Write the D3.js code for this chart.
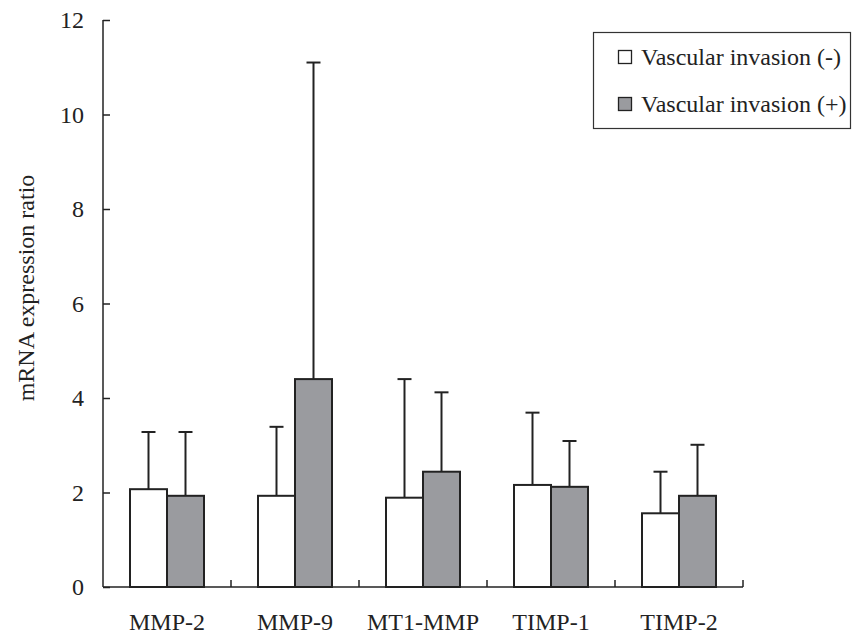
<!DOCTYPE html>
<html><head><meta charset="utf-8">
<script src="https://cdn.jsdelivr.net/npm/d3@7"></script>
<style>body{margin:0;background:#fff}svg{display:block}</style>
</head><body><svg id="c" width="864" height="635"></svg>
<script>
const categories = ["MMP-2","MMP-9","MT1-MMP","TIMP-1","TIMP-2"];
const seriesNames = ["Vascular invasion (-)","Vascular invasion (+)"];
const negMean = [2.07,1.93,1.89,2.16,1.56];
const negErr  = [1.21,1.46,2.51,1.53,0.88];
const posMean = [1.93,4.40,2.44,2.12,1.93];
const posErr  = [1.35,6.70,1.68,0.97,1.08];
const yTicks = [0,2,4,6,8,10,12];
const colors = ["#ffffff","#9a9b9f"];
const FONT = "'Liberation Serif', 'Times New Roman', 'DejaVu Serif', serif";

const svg = d3.select("#c").attr("font-family",FONT);
const x0 = 103, x1 = 743, yb = 587, yt = 20;
const x = d3.scaleBand().domain(categories).range([x0,x1]).paddingInner(0).paddingOuter(0);
const xs = d3.scaleBand().domain([0,1]).range([0,74]);
const y = d3.scaleLinear().domain([0,12]).range([yb,yt]);

// y axis
const ya = svg.append("g").attr("transform",`translate(${x0},0)`)
  .call(d3.axisLeft(y).tickValues(yTicks).tickSize(-7).tickPadding(19).tickFormat(d3.format("d")));
ya.attr("font-family",FONT);
ya.select(".domain").remove();
ya.append("line").attr("x1",0).attr("x2",0).attr("y1",yt).attr("y2",yb).attr("stroke","#222").attr("stroke-width",1.5);
ya.selectAll(".tick line").attr("stroke","#222").attr("stroke-width",1.5);
ya.selectAll(".tick text").attr("font-size",24).attr("font-family",FONT).attr("fill","#222");

// x axis
const xa = svg.append("g").attr("transform",`translate(0,${yb})`);
xa.append("line").attr("x1",x0).attr("x2",x1).attr("stroke","#222").attr("stroke-width",1.5);
const bounds = categories.map(c=>x(c)+x.bandwidth());
xa.selectAll("line.t").data(bounds).enter().append("line").attr("class","t")
  .attr("x1",d=>d).attr("x2",d=>d).attr("y1",0).attr("y2",-7).attr("stroke","#222").attr("stroke-width",1.5);
xa.selectAll("text.c").data(categories).enter().append("text").attr("class","c")
  .attr("x",d=>x(d)+x.bandwidth()/2).attr("y",43).attr("text-anchor","middle")
  .attr("font-size",24).attr("font-family",FONT).attr("fill","#222").text(d=>d);

// bars
const data = [];
categories.forEach((c,i)=>{
  data.push({c,s:0,m:negMean[i],e:negErr[i]});
  data.push({c,s:1,m:posMean[i],e:posErr[i]});
});
const off = (x.bandwidth()-74)/2;
const g = svg.append("g");
g.selectAll("line.err").data(data).enter().append("line")
  .attr("x1",d=>x(d.c)+off+xs(d.s)+xs.bandwidth()/2).attr("x2",d=>x(d.c)+off+xs(d.s)+xs.bandwidth()/2)
  .attr("y1",d=>y(d.m)).attr("y2",d=>y(d.m+d.e)).attr("stroke","#222").attr("stroke-width",2);
g.selectAll("line.cap").data(data).enter().append("line")
  .attr("x1",d=>x(d.c)+off+xs(d.s)+xs.bandwidth()/2-7).attr("x2",d=>x(d.c)+off+xs(d.s)+xs.bandwidth()/2+7)
  .attr("y1",d=>y(d.m+d.e)).attr("y2",d=>y(d.m+d.e)).attr("stroke","#222").attr("stroke-width",2);
g.selectAll("rect").data(data).enter().append("rect")
  .attr("x",d=>x(d.c)+off+xs(d.s)).attr("width",xs.bandwidth())
  .attr("y",d=>y(d.m)).attr("height",d=>yb-y(d.m))
  .attr("fill",d=>colors[d.s]).attr("stroke","#222").attr("stroke-width",2);

// y label
svg.append("text").attr("transform","translate(34,288) rotate(-90)").attr("text-anchor","middle")
  .attr("font-size",24).attr("font-family",FONT).attr("fill","#222").text("mRNA expression ratio");

// legend
const lg = svg.append("g");
lg.append("rect").attr("x",593.5).attr("y",32.5).attr("width",257).attr("height",96).attr("fill","#fff").attr("stroke","#333").attr("stroke-width",1.2);
seriesNames.forEach((n,i)=>{
  const cy = 57 + i*47;
  lg.append("rect").attr("x",618.5).attr("y",cy-6.5).attr("width",13).attr("height",13).attr("fill",colors[i]).attr("stroke","#222").attr("stroke-width",1.3);
  lg.append("text").attr("x",641).attr("y",cy+8).attr("font-size",24).attr("font-family",FONT).attr("fill","#222").text(n);
});
</script></body></html>
